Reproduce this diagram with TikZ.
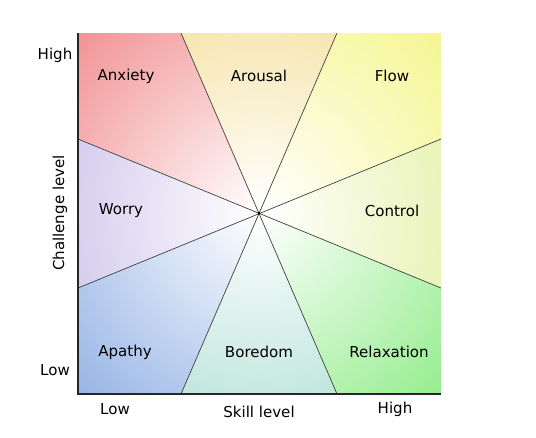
\documentclass[tikz,border=0pt]{standalone}
\usepackage{fontspec}
\setmainfont{DejaVu Sans}
\usepackage{xcolor}
\definecolor{anxiety}{RGB}{240,128,130}
\definecolor{arousal}{RGB}{244,222,150}
\definecolor{flow}{RGB}{244,244,128}
\definecolor{control}{RGB}{226,240,160}
\definecolor{relax}{RGB}{132,234,124}
\definecolor{boredom}{RGB}{172,222,210}
\definecolor{apathy}{RGB}{134,168,226}
\definecolor{worry}{RGB}{200,188,232}
\tikzset{
  zone/.style={font=\fontsize{10.7}{12}\selectfont},
  divider/.style={draw=black!75,line width=0.5pt}
}

\begin{document}
\begin{tikzpicture}[x=0.025cm,y=0.025cm]
  \useasboundingbox (-78,-43) rectangle (458,394);
  \coordinate (O) at (181,181);
  \coordinate (TL) at (0,361);
  \coordinate (TR) at (363,361);
  \coordinate (BL) at (0,0);
  \coordinate (BR) at (363,0);
  \coordinate (T1) at (103,361);
  \coordinate (T2) at (259,361);
  \coordinate (L1) at (0,255);
  \coordinate (L2) at (0,106);
  \coordinate (R1) at (363,255);
  \coordinate (R2) at (363,106);
  \coordinate (B1) at (103,0);
  \coordinate (B2) at (259,0);
  % the eight zones, white in the middle
  \begin{scope}\clip (O)--(T1)--(TL)--(L1)--cycle;
    \shade[inner color=white,outer color=anxiety] (O) circle (300);\end{scope}
  \begin{scope}\clip (O)--(T1)--(T2)--cycle;
    \shade[inner color=white,outer color=arousal] (O) circle (260);\end{scope}
  \begin{scope}\clip (O)--(T2)--(TR)--(R1)--cycle;
    \shade[inner color=white,outer color=flow] (O) circle (300);\end{scope}
  \begin{scope}\clip (O)--(R1)--(R2)--cycle;
    \shade[inner color=white,outer color=control] (O) circle (260);\end{scope}
  \begin{scope}\clip (O)--(R2)--(BR)--(B2)--cycle;
    \shade[inner color=white,outer color=relax] (O) circle (300);\end{scope}
  \begin{scope}\clip (O)--(B2)--(B1)--cycle;
    \shade[inner color=white,outer color=boredom] (O) circle (260);\end{scope}
  \begin{scope}\clip (O)--(B1)--(BL)--(L2)--cycle;
    \shade[inner color=white,outer color=apathy] (O) circle (300);\end{scope}
  \begin{scope}\clip (O)--(L2)--(L1)--cycle;
    \shade[inner color=white,outer color=worry] (O) circle (260);\end{scope}
  \draw[divider] (T1)--(B2);
  \draw[divider] (T2)--(B1);
  \draw[divider] (L1)--(R2);
  \draw[divider] (L2)--(R1);
  \fill[black] (O) circle (1.5);
  \draw[black!85,line width=1.3pt] (TL)--(BL)--(BR);
  \node[zone] (anx) at (48,318) {Anxiety};
  \node[zone] (aro) at (181,318) {Arousal};
  \node[zone] (flw) at (314,318) {Flow};
  \node[zone] (wor) at (43,183) {Worry};
  \node[zone] (ctl) at (314,183) {Control};
  \node[zone] (apa) at (47,42) {Apathy};
  \node[zone] (bor) at (181,42) {Boredom};
  \node[zone] (rel) at (311,42) {Relaxation};
  \node[zone] (chigh) at (-23,339) {High};
  \node[zone] (clow) at (-23,24) {Low};
  \node[zone] (slow) at (37,-15) {Low};
  \node[zone] (shigh) at (317,-15) {High};
  \node[zone] (skill) at (181,-18) {Skill level};
  \node[zone,rotate=90] (chal) at (-18,181) {Challenge level};
\end{tikzpicture}
\end{document}
